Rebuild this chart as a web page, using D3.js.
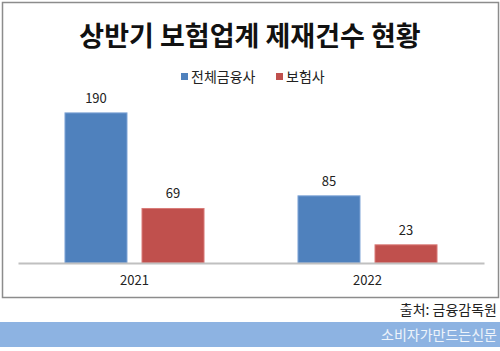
<!DOCTYPE html>
<html>
<head>
<meta charset="utf-8">
<script src="https://cdn.jsdelivr.net/npm/d3@7"></script>
<style>
  body { margin: 0; background: #fff; }
  svg { display: block; font-family: "Noto Sans CJK KR", "Malgun Gothic", sans-serif; }
</style>
</head>
<body>
<script>
// chart data
var years = ["2021", "2022"];
var seriesNames = ["전체금융사", "보험사"];
var allFirms = [190, 85];
var insurers = [69, 23];
var seriesColors = ["#4F81BD", "#C0504D"];

var width = 500, height = 351;

var svg = d3.select("body")
    .append("svg")
    .attr("width", width)
    .attr("height", height);

// chart frame
svg.append("rect")
    .attr("x", 2.5).attr("y", 2.5)
    .attr("width", 496).attr("height", 295)
    .attr("fill", "#fff")
    .attr("stroke", "#8c8c8c")
    .attr("stroke-width", 1.5);

// title
svg.append("text")
    .attr("x", 250).attr("y", 46)
    .attr("text-anchor", "middle")
    .attr("font-size", 27)
    .attr("font-weight", "bold")
    .attr("fill", "#111")
    .text("상반기 보험업계 제재건수 현황");

// legend
var legend = svg.append("g");
var legendX = [181, 276];
seriesNames.forEach(function (name, i) {
    legend.append("rect")
        .attr("x", legendX[i]).attr("y", 73)
        .attr("width", 7).attr("height", 7)
        .attr("fill", seriesColors[i]);
    legend.append("text")
        .attr("x", legendX[i] + 10).attr("y", 82)
        .attr("font-size", 14)
        .attr("fill", "#222")
        .text(name);
});

// scales
var plotLeft = 18, plotRight = 484, baseY = 263;

var x0 = d3.scaleBand()
    .domain(years)
    .range([plotLeft, plotRight]);

var x1 = d3.scaleBand()
    .domain(seriesNames)
    .range([0, x0.bandwidth()])
    .paddingInner(15 / 77)
    .paddingOuter(0.61);

var y = d3.scaleLinear()
    .domain([0, 200])
    .range([baseY, baseY - 158]);

var rows = years.map(function (yr, i) {
    return { year: yr, values: [allFirms[i], insurers[i]] };
});

// bars
var groups = svg.append("g")
    .selectAll("g")
    .data(rows)
    .enter().append("g")
    .attr("transform", function (d) { return "translate(" + x0(d.year) + ",0)"; });

groups.selectAll("rect")
    .data(function (d) { return d.values.map(function (v, i) { return { key: seriesNames[i], value: v, i: i }; }); })
    .enter().append("rect")
    .attr("x", function (d) { return x1(d.key); })
    .attr("y", function (d) { return y(d.value); })
    .attr("width", x1.bandwidth())
    .attr("height", function (d) { return baseY - y(d.value); })
    .attr("fill", function (d) { return seriesColors[d.i]; })
    .attr("stroke", function (d) { return d.i === 0 ? "#7ea4d6" : "#d97b78"; })
    .attr("stroke-width", 1);

groups.selectAll("text")
    .data(function (d) { return d.values.map(function (v, i) { return { key: seriesNames[i], value: v }; }); })
    .enter().append("text")
    .attr("x", function (d) { return x1(d.key) + x1.bandwidth() / 2; })
    .attr("y", function (d) { return y(d.value) - 10; })
    .attr("text-anchor", "middle")
    .attr("font-size", 13)
    .attr("fill", "#222")
    .text(function (d) { return d.value; });

// x axis
var xAxis = svg.append("g")
    .attr("transform", "translate(0," + baseY + ")")
    .call(d3.axisBottom(x0).tickSize(0).tickPadding(13));
xAxis.select(".domain").attr("stroke", "#c0c0c0").attr("stroke-width", 2);
xAxis.selectAll("text")
    .attr("font-size", 13)
    .attr("fill", "#222")
    .attr("font-family", "\"Noto Sans CJK KR\", sans-serif");

// source
svg.append("text")
    .attr("x", 497).attr("y", 315)
    .attr("text-anchor", "end")
    .attr("font-size", 14)
    .attr("fill", "#222")
    .text("출처: 금융감독원");

// banner
svg.append("rect")
    .attr("x", 0).attr("y", 322)
    .attr("width", width).attr("height", 25)
    .attr("fill", "#8DB3E2");
svg.append("text")
    .attr("x", 497).attr("y", 340)
    .attr("text-anchor", "end")
    .attr("font-size", 14)
    .attr("fill", "#eef4fb")
    .text("소비자가만드는신문");
</script>
</body>
</html>
